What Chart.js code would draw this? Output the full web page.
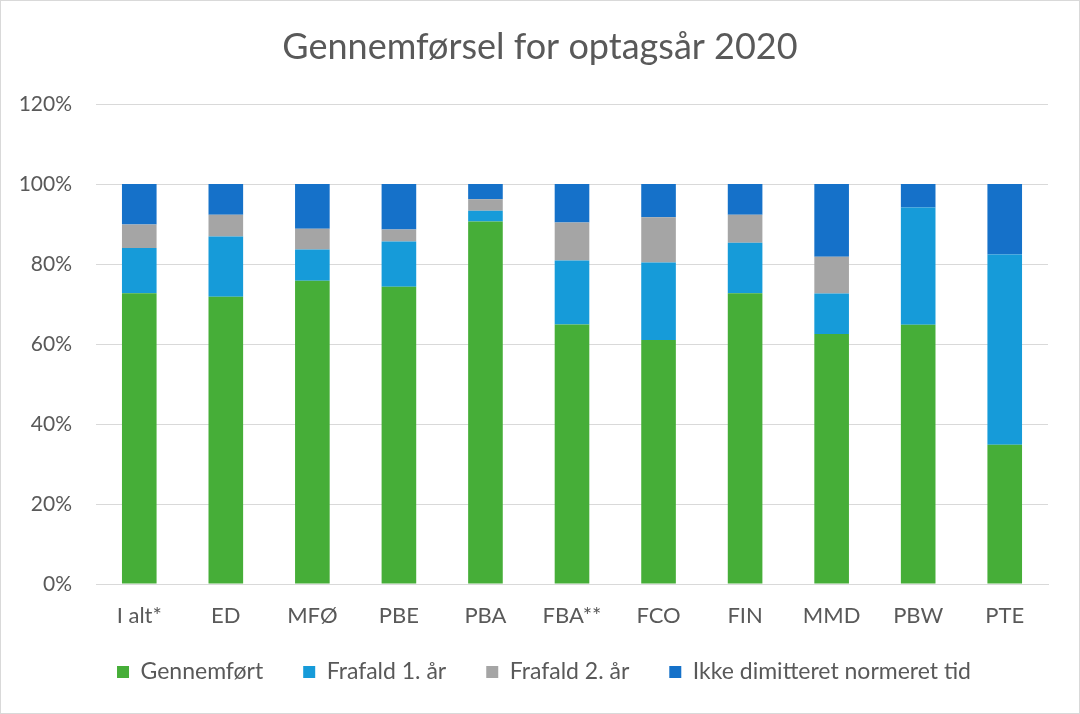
<!DOCTYPE html>
<html>
<head>
<meta charset="utf-8">
<script src="https://cdn.jsdelivr.net/npm/chart.js@4.4.0/dist/chart.umd.min.js"></script>
<style>
html,body{margin:0;padding:0;background:#fff;}
#wrap{position:relative;width:1078px;height:712px;border:1px solid #d9d9d9;}
canvas{display:block;}
</style>
</head>
<body>
<div id="wrap"><canvas id="c" width="1078" height="712"></canvas></div>
<script>
const categories = ["I alt*", "ED", "MFØ", "PBE", "PBA", "FBA**", "FCO", "FIN", "MMD", "PBW", "PTE"];
const gennemfoert = [72.7, 71.8, 75.8, 74.3, 90.6, 64.9, 61.0, 72.7, 62.5, 64.8, 34.8];
const frafald1 = [11.3, 15.1, 7.8, 11.3, 2.7, 16.0, 19.4, 12.6, 10.1, 29.3, 47.6];
const frafald2 = [5.9, 5.4, 5.2, 3.0, 2.9, 9.5, 11.3, 7.0, 9.2, 0, 0];
const ikkeDimitteret = [10.1, 7.7, 11.2, 11.4, 3.8, 9.6, 8.3, 7.7, 18.2, 5.9, 17.6];
const seriesNames = ["Gennemført", "Frafald 1. år", "Frafald 2. år", "Ikke dimitteret normeret tid"];
const colors = ["#46AE38", "#169BD9", "#A5A5A5", "#1571C9"];
const titleText = "Gennemførsel for optagsår 2020";

const FONT = "Lato, 'Open Sans', sans-serif";
const seriesData = [gennemfoert, frafald1, frafald2, ikkeDimitteret];

const layoutTweak = {
  id: 'layoutTweak',
  afterLayout(chart) {
    const x = chart.scales.x;
    x.bottom += 40; x.height += 40;
    if (chart.legend) { chart.legend.left += 10; chart.legend.right += 10; }
    if (chart.titleBlock) { chart.titleBlock.left += 6; chart.titleBlock.right += 6; }
  }
};

new Chart(document.getElementById('c'), {
  type: 'bar',
  data: {
    labels: categories,
    datasets: seriesNames.map((n, i) => ({
      label: n,
      data: seriesData[i],
      backgroundColor: colors[i],
      borderWidth: 0,
      categoryPercentage: 0.8,
      barPercentage: 0.5
    }))
  },
  plugins: [layoutTweak],
  options: {
    responsive: false,
    animation: false,
    devicePixelRatio: 1,
    layout: { padding: { left: 19, right: 31, top: 18, bottom: 19.5 } },
    plugins: {
      title: {
        display: true,
        text: titleText,
        color: '#595959',
        font: { family: FONT, size: 36, weight: 'normal' },
        padding: { top: 6.4, bottom: 35.4 }
      },
      legend: {
        position: 'bottom',
        labels: {
          color: '#595959',
          font: { family: FONT, size: 23 },
          boxWidth: 12,
          boxHeight: 12,
          padding: 40
        }
      },
      tooltip: { enabled: false }
    },
    scales: {
      x: {
        stacked: true,
        grid: { display: false, drawTicks: false },
        border: { display: true, color: '#d9d9d9' },
        ticks: { color: '#595959', font: { family: FONT, size: 22 }, padding: 19 },
        afterFit: s => { s.height = 36.5; }
      },
      y: {
        stacked: true,
        min: 0,
        max: 120,
        grid: { color: '#d9d9d9', drawTicks: false },
        border: { display: false },
        ticks: {
          stepSize: 20,
          color: '#595959',
          font: { family: FONT, size: 21 },
          padding: 24,
          callback: v => v + '%'
        },
        afterFit: s => { s.width = 76; }
      }
    }
  }
});
</script>
</body>
</html>
